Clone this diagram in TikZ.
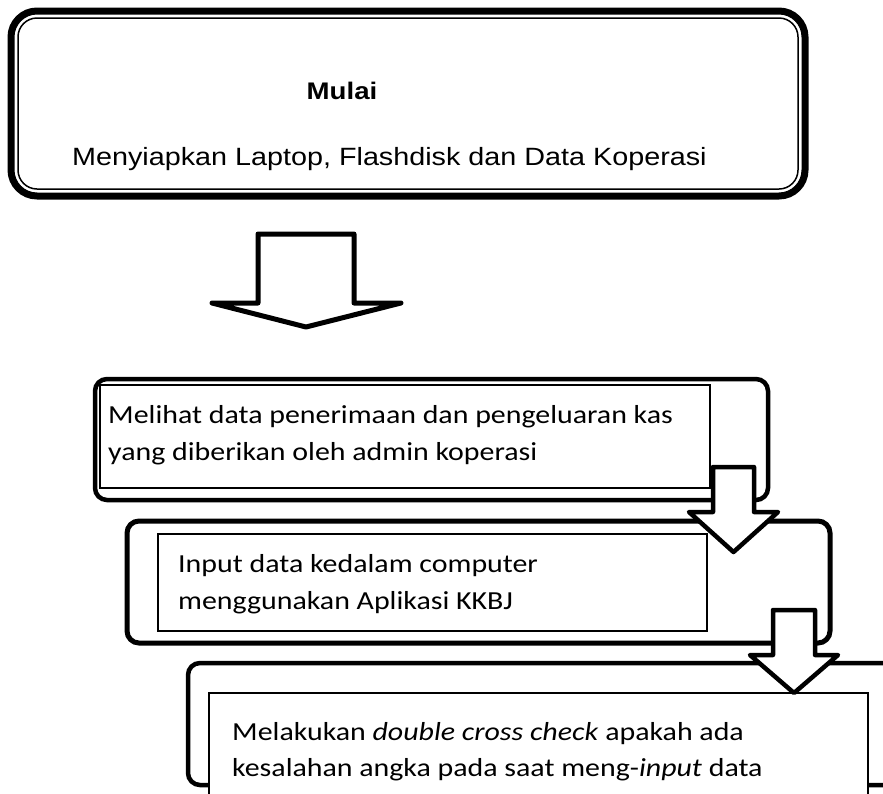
\documentclass[tikz,border=0pt]{standalone}
\usepackage{graphicx}
\usepackage{fontspec}
\setmainfont{Carlito}
\newfontfamily\arialfont{Liberation Sans}
\newcommand{\hs}[1]{\scalebox{1.15}[1]{#1}}
\begin{document}
\begin{tikzpicture}[x=1pt,y=-1pt,
  outerbox/.style={draw=black, rectangle, rounded corners=12pt, inner sep=0pt, outer sep=0pt},
  innerbox/.style={draw=black, fill=white, rectangle, line width=1.3pt, inner sep=0pt, outer sep=0pt},
  blockarrow/.style={draw=black, fill=white, line width=4.5pt, line join=round},
  linetext/.style={anchor=base west, inner sep=0pt, font=\fontsize{26}{30}\selectfont},
  toptext/.style={anchor=base west, inner sep=0pt, font=\arialfont\fontsize{25}{30}\selectfont}]
\useasboundingbox (0,0) rectangle (883,793);
\fill[white] (0,0) rectangle (883,793);
\begin{scope}
\clip (0,0) rectangle (883,793);
% top box
\node[outerbox, line width=7pt, rounded corners=26pt, minimum width=794pt, minimum height=185pt] (start) at (408,103.5) {};
\node[outerbox, line width=1.5pt, rounded corners=19pt, minimum width=780pt, minimum height=171pt] (startin) at (408,103.5) {};
\node[anchor=base, inner sep=0pt, font=\arialfont\bfseries\fontsize{24}{30}\selectfont] (mulai) at (342,99) {\hs{Mulai}};
\node[toptext] (prep) at (72,165) {\hs{Menyiapkan Laptop, Flashdisk dan Data Koperasi}};
% box 2
\node[outerbox, line width=4.5pt, minimum width=673pt, minimum height=121pt] (b2) at (431.5,439.5) {};
\node[innerbox, minimum width=610pt, minimum height=103pt] (b2t) at (405,436.5) {};
\node[linetext] (b2a) at (108,423) {\hs{Melihat data penerimaan dan pengeluaran kas}};
\node[linetext] (b2b) at (108,460) {\hs{yang diberikan oleh admin koperasi}};
% box 3
\node[outerbox, line width=5pt, minimum width=703pt, minimum height=122pt] (b3) at (478.5,582) {};
\node[innerbox, minimum width=549pt, minimum height=97pt] (b3t) at (432.5,582.5) {};
\node[linetext] (b3a) at (178,572) {\hs{Input data kedalam computer}};
\node[linetext] (b3b) at (178,609) {\hs{menggunakan Aplikasi KKBJ}};
% box 4
\node[outerbox, line width=4.5pt, minimum width=722pt, minimum height=122pt] (b4) at (549,724) {};
\node[innerbox, minimum width=659pt, minimum height=137pt] (b4t) at (538.5,761.5) {};
\node[linetext] (b4a) at (232,740) {\hs{Melakukan \textit{double cross check} apakah ada}};
\node[linetext] (b4b) at (232,776) {\hs{kesalahan angka pada saat meng-\textit{input} data}};
% block arrows
\coordinate (t1) at (306,327);
\coordinate (t2) at (733.5,552);
\coordinate (t3) at (794,693);
\draw[blockarrow, line width=5pt] (258,234) -- (354,234) -- (354,303) -- (401,303) -- (t1) -- (212,303) -- (258,303) -- cycle;
\draw[blockarrow] (713,467) -- (754,467) -- (754,512) -- (778,512) -- (t2) -- (689,512) -- (713,512) -- cycle;
\draw[blockarrow] (773,610) -- (815,610) -- (815,655) -- (838,655) -- (t3) -- (750,655) -- (773,655) -- cycle;
\end{scope}
\end{tikzpicture}
\end{document}
